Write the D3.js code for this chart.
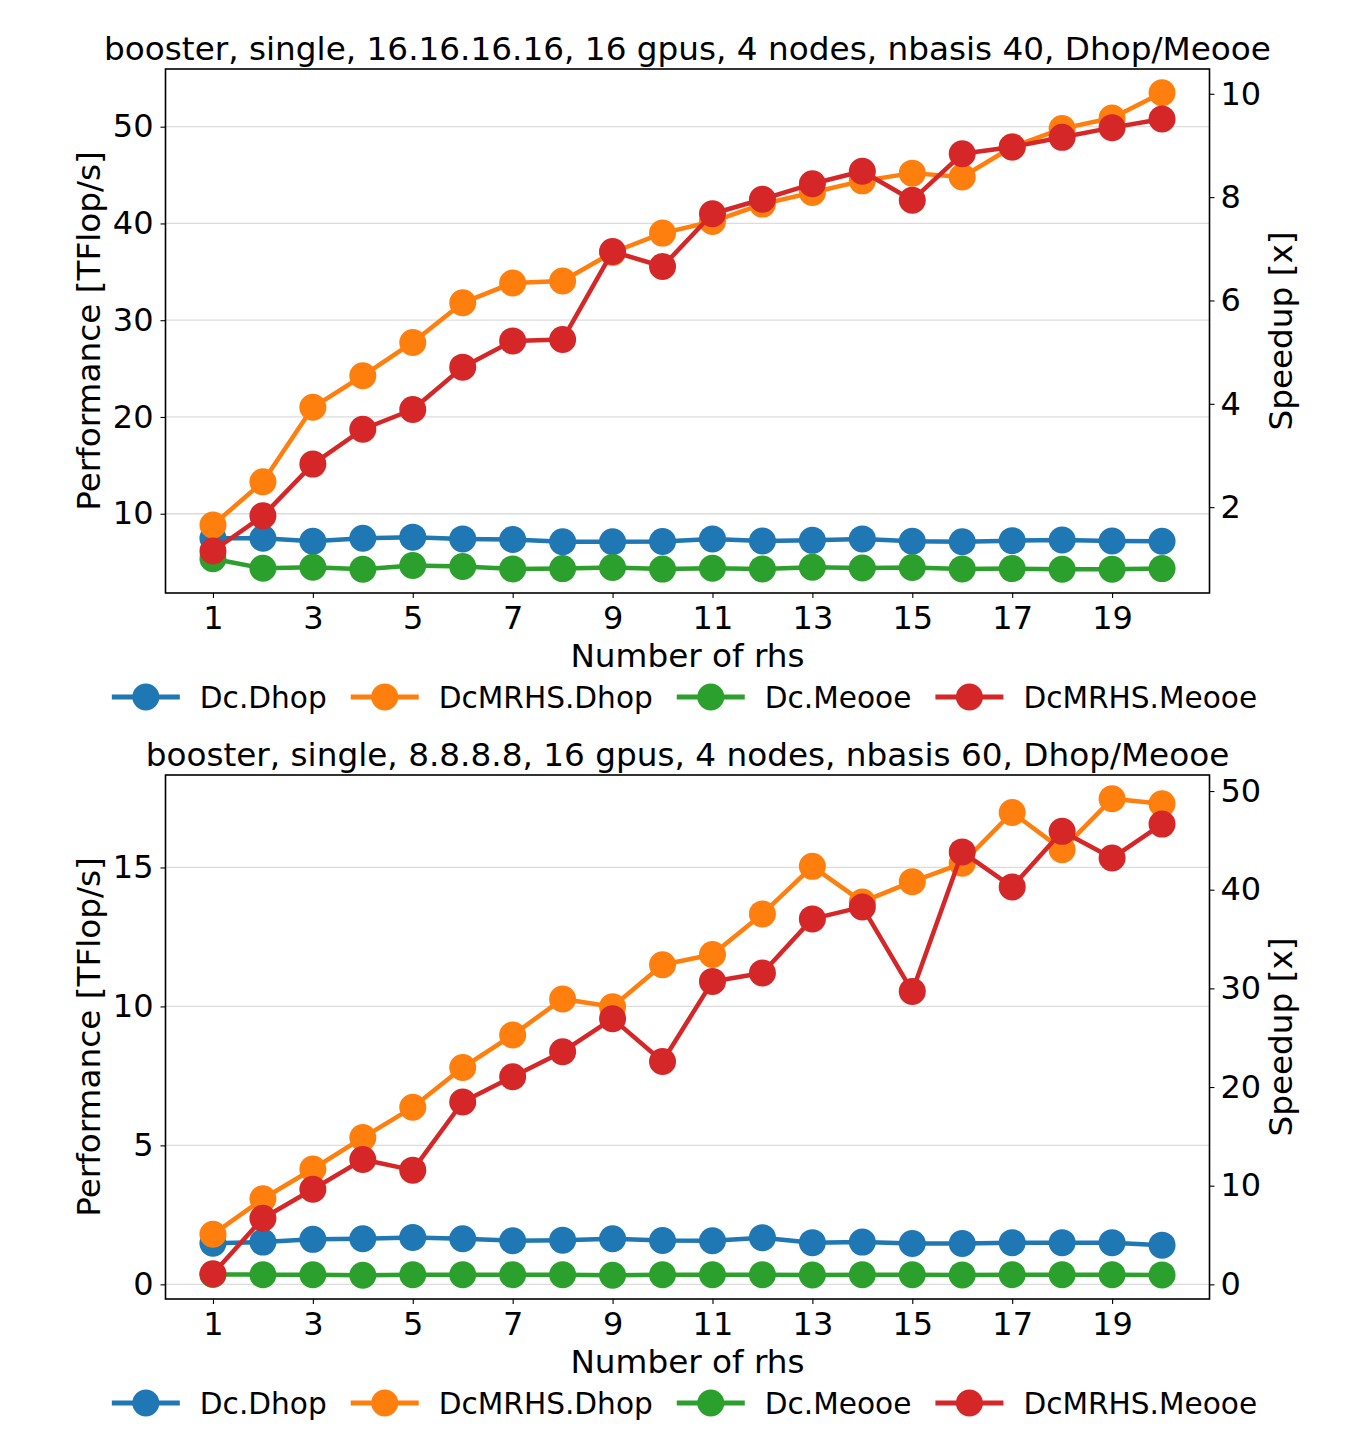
<!DOCTYPE html>
<html>
<head>
<meta charset="utf-8">
<script src="https://cdn.jsdelivr.net/npm/d3@7"></script>
<style>
  html, body { margin: 0; padding: 0; background: #fff; }
  svg { display: block; font-family: "DejaVu Sans", sans-serif; }
</style>
</head>
<body>
<svg id="chart" width="1348" height="1431"></svg>
<script>
// ---------------- DATA ----------------
const rhs = [1,2,3,4,5,6,7,8,9,10,11,12,13,14,15,16,17,18,19,20];
const seriesNames = ["Dc.Dhop", "DcMRHS.Dhop", "Dc.Meooe", "DcMRHS.Meooe"];

const topTitle = "booster, single, 16.16.16.16, 16 gpus, 4 nodes, nbasis 40, Dhop/Meooe";
const top_DcDhop      = [7.46, 7.47, 7.15, 7.47, 7.58, 7.40, 7.33, 7.11, 7.11, 7.13, 7.40, 7.18, 7.25, 7.40, 7.15, 7.11, 7.22, 7.29, 7.18, 7.15];
const top_DcMRHSDhop  = [8.83, 13.3, 21.0, 24.26, 27.7, 31.8, 33.85, 34.06, 37.0, 39.0, 40.2, 42.0, 43.2, 44.4, 45.2, 44.8, 47.9, 49.8, 50.9, 53.5];
const top_DcMeooe     = [5.34, 4.37, 4.47, 4.27, 4.65, 4.55, 4.30, 4.33, 4.44, 4.28, 4.37, 4.30, 4.47, 4.40, 4.44, 4.30, 4.33, 4.27, 4.27, 4.33];
const top_DcMRHSMeooe = [6.15, 9.79, 15.13, 18.73, 20.77, 25.15, 27.86, 28.0, 37.1, 35.55, 41.0, 42.5, 44.1, 45.4, 42.4, 47.2, 47.9, 48.9, 49.9, 50.8];
const topLeftTicks  = [10, 20, 30, 40, 50];
const topRightTicks = [2, 4, 6, 8, 10];

const bottomTitle = "booster, single, 8.8.8.8, 16 gpus, 4 nodes, nbasis 60, Dhop/Meooe";
const bot_DcDhop      = [1.48, 1.52, 1.62, 1.64, 1.69, 1.64, 1.57, 1.59, 1.64, 1.58, 1.57, 1.68, 1.50, 1.52, 1.47, 1.47, 1.50, 1.50, 1.50, 1.41];
const bot_DcMRHSDhop  = [1.80, 3.08, 4.15, 5.28, 6.37, 7.80, 8.97, 10.27, 9.99, 11.5, 11.87, 13.33, 15.04, 13.76, 14.49, 15.15, 16.98, 15.64, 17.47, 17.29];
const bot_DcMeooe     = [0.355, 0.35, 0.35, 0.33, 0.35, 0.35, 0.35, 0.35, 0.33, 0.35, 0.35, 0.35, 0.34, 0.35, 0.35, 0.34, 0.35, 0.35, 0.35, 0.34];
const bot_DcMRHSMeooe = [0.38, 2.38, 3.42, 4.49, 4.11, 6.56, 7.47, 8.37, 9.56, 8.02, 10.9, 11.2, 13.15, 13.58, 10.54, 15.56, 14.3, 16.3, 15.34, 16.56];
const botLeftTicks  = [0, 5, 10, 15];
const botRightTicks = [0, 10, 20, 30, 40, 50];

const xTicks = [1, 3, 5, 7, 9, 11, 13, 15, 17, 19];
const xLabel = "Number of rhs";
const yLabelLeft = "Performance [TFlop/s]";
const yLabelRight = "Speedup [x]";

// ---------------- STYLE ----------------
const colors = ["#1f77b4", "#ff7f0e", "#2ca02c", "#d62728"];
const TITLEFONT = 32.7;
const LABELFONT = 32.7;
const TICKFONT = 32;
const LEGFONT = 29.6;
const LW = 4.5;
const MR = 13.5;

const svg = d3.select("#chart");

function drawPanel(cfg) {
  const { left, right, top, bottom, title, series, leftTicks, rightTicks } = cfg;
  const g = svg.append("g");

  // x scale with matplotlib-style 5% margins
  const xmin = d3.min(rhs), xmax = d3.max(rhs);
  const xpad = (xmax - xmin) * 0.05;
  const x = d3.scaleLinear().domain([xmin - xpad, xmax + xpad]).range([left, right]);

  const all = series.flat();
  const ymin = d3.min(all), ymax = d3.max(all);
  const ypad = (ymax - ymin) * 0.05;
  const yDom = [ymin - ypad, ymax + ypad];
  const y = d3.scaleLinear().domain(yDom).range([bottom, top]);
  const baseline = series[2][0]; // speedup relative to Dc.Meooe at 1 rhs
  const y2 = d3.scaleLinear().domain(yDom.map(v => v / baseline)).range([bottom, top]);

  // grid
  g.append("g").selectAll("line").data(leftTicks).join("line")
    .attr("x1", left).attr("x2", right)
    .attr("y1", d => y(d)).attr("y2", d => y(d))
    .attr("stroke", "#dcdcdc").attr("stroke-width", 1.3);

  // axes
  const axL = d3.axisLeft(y).tickValues(leftTicks).tickSize(5).tickPadding(7).tickFormat(d3.format("d"));
  const axR = d3.axisRight(y2).tickValues(rightTicks).tickSize(5).tickPadding(6).tickFormat(d3.format("d"));
  const axB = d3.axisBottom(x).tickValues(xTicks).tickSize(5).tickPadding(8).tickFormat(d3.format("d"));

  function styleAxis(sel) {
    sel.select(".domain").remove();
    sel.selectAll(".tick line").attr("stroke", "#000").attr("stroke-width", 1.1);
    sel.selectAll(".tick text").attr("font-size", TICKFONT).attr("fill", "#000")
      .attr("font-family", "DejaVu Sans");
  }
  g.append("g").attr("transform", `translate(${left},0)`).call(axL).call(styleAxis);
  g.append("g").attr("transform", `translate(${right},0)`).call(axR).call(styleAxis);
  g.append("g").attr("transform", `translate(0,${bottom})`).call(axB).call(styleAxis);

  // lines and markers (drawn in series order)
  const line = d3.line().x((d, i) => x(rhs[i])).y(d => y(d));
  series.forEach((vals, si) => {
    const sg = g.append("g");
    sg.append("path").datum(vals).attr("d", line)
      .attr("fill", "none").attr("stroke", colors[si]).attr("stroke-width", LW)
      .attr("stroke-linejoin", "round");
    sg.selectAll("circle").data(vals).join("circle")
      .attr("cx", (d, i) => x(rhs[i])).attr("cy", d => y(d)).attr("r", MR)
      .attr("fill", colors[si]);
  });

  // frame
  g.append("rect").attr("x", left).attr("y", top)
    .attr("width", right - left).attr("height", bottom - top)
    .attr("fill", "none").attr("stroke", "#000").attr("stroke-width", 1.6);

  // title
  g.append("text").attr("x", (left + right) / 2).attr("y", top - 9)
    .attr("text-anchor", "middle").attr("font-size", TITLEFONT).text(title);

  // axis labels
  g.append("text").attr("x", (left + right) / 2).attr("y", bottom + 74)
    .attr("text-anchor", "middle").attr("font-size", LABELFONT).text(xLabel);
  g.append("text")
    .attr("transform", `translate(${left - 66},${(top + bottom) / 2}) rotate(-90)`)
    .attr("text-anchor", "middle").attr("font-size", LABELFONT).text(yLabelLeft);
  g.append("text")
    .attr("transform", `translate(${right + 82},${(top + bottom) / 2}) rotate(-90)`)
    .attr("text-anchor", "middle").attr("font-size", LABELFONT).text(yLabelRight);

  // legend
  const lg = g.append("g");
  const legY = bottom + 104;
  const handleLen = 68, textPad = 20, colGap = 24;
  let cx = 0;
  seriesNames.forEach((name, si) => {
    const it = lg.append("g");
    it.append("line").attr("x1", cx).attr("x2", cx + handleLen)
      .attr("y1", legY).attr("y2", legY)
      .attr("stroke", colors[si]).attr("stroke-width", LW + 0.5);
    it.append("circle").attr("cx", cx + handleLen / 2).attr("cy", legY).attr("r", MR)
      .attr("fill", colors[si]);
    const t = it.append("text").attr("x", cx + handleLen + textPad).attr("y", legY + 10.5)
      .attr("font-size", LEGFONT).text(name);
    const w = t.node().getComputedTextLength();
    cx += handleLen + textPad + w + colGap;
  });
  const totalW = cx - colGap;
  lg.attr("transform", `translate(${684.5 - totalW / 2},0)`);
}

drawPanel({
  left: 165.5, right: 1209.5, top: 69, bottom: 593,
  title: topTitle,
  series: [top_DcDhop, top_DcMRHSDhop, top_DcMeooe, top_DcMRHSMeooe],
  leftTicks: topLeftTicks, rightTicks: topRightTicks
});
drawPanel({
  left: 165.5, right: 1209.5, top: 775, bottom: 1299,
  title: bottomTitle,
  series: [bot_DcDhop, bot_DcMRHSDhop, bot_DcMeooe, bot_DcMRHSMeooe],
  leftTicks: botLeftTicks, rightTicks: botRightTicks
});
</script>
</body>
</html>
